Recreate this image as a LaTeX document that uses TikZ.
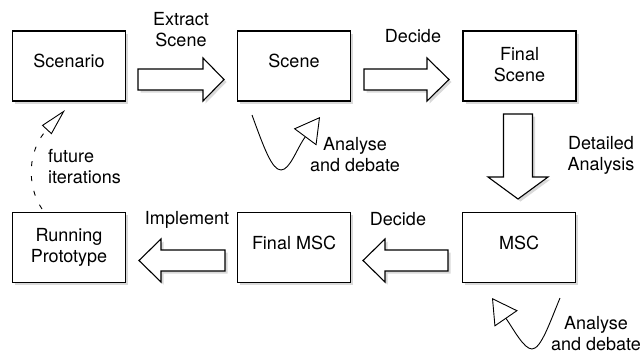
\documentclass[tikz,border=0pt]{standalone}
\usepackage{fontspec}
\setmainfont{TeX Gyre Heros}
\usetikzlibrary{shadows,arrows.meta,calc}
\begin{document}
\begin{tikzpicture}[x=1pt,y=-1pt,
  font=\fontsize{18}{21}\selectfont,
  shad/.style={drop shadow={shadow xshift=2.5pt,shadow yshift=-2.5pt,opacity=0.3}},
  box/.style={draw,line width=1.1pt,fill=white,minimum width=113pt,minimum height=70pt,inner sep=0pt,shad},
  lab/.style={inner sep=0pt,align=center},
  barrow/.style={draw,line width=1.1pt,fill=white,line join=miter,shad},
  loop/.style={line width=0.9pt,-{Triangle[open,length=25pt,width=28pt]}},
  fut/.style={line width=0.9pt,dash pattern=on 5pt off 10pt,-{Triangle[open,length=27pt,width=13pt]}}
]
\useasboundingbox (0,0) rectangle (640,354);

% boxes
\node[box,label={[lab,yshift=5pt]center:Scenario}] (scenario) at (69,66) {};
\node[box,label={[lab,yshift=5pt]center:Scene}] (scene) at (294,66) {};
\node[box,label={[lab,yshift=1.5pt]center:Final\\Scene}] (fscene) at (519.5,66) {};
\node[box,label={[lab,yshift=0.5pt]center:Running\\Prototype}] (proto) at (69,247.5) {};
\node[box,label={[lab,yshift=4.5pt]center:Final MSC}] (fmsc) at (294,247.5) {};
\node[box,label={[lab,yshift=4.5pt]center:MSC}] (msc) at (519,247.5) {};

% block arrows
\draw[barrow] (138,69) -- (203,69) -- (203,58) -- (224,79.5) -- (203,101) -- (203,90) -- (138,90) -- cycle;
\draw[barrow] (364,69) -- (427,69) -- (427,58) -- (449,79.5) -- (427,101) -- (427,90) -- (364,90) -- cycle;
\draw[barrow] (503.5,114) -- (532.5,114) -- (532.5,177) -- (548,177) -- (518,199) -- (488,177) -- (503.5,177) -- cycle;
\draw[barrow] (448,250) -- (385,250) -- (385,239) -- (363,260.5) -- (385,282) -- (385,271) -- (448,271) -- cycle;
\draw[barrow] (225,250) -- (161,250) -- (161,239) -- (139,260.5) -- (161,282) -- (161,271) -- (225,271) -- cycle;

% labels
\node[lab] (extract) at (181,30) {Extract\\Scene};
\node[lab] (decideA) at (413,36) {Decide};
\node[lab] (detailed) at (601,155.5) {Detailed\\Analysis};
\node[lab] (adA) at (355,155) {Analyse\\and debate};
\node[lab,align=left,anchor=west] (future) at (48,167) {future\\iterations};
\node[lab] (impl) at (187,219.5) {Implement};
\node[lab] (decideB) at (398,219) {Decide};
\node[lab] (adB) at (596,333.5) {Analyse\\and debate};

% loops
\coordinate (l1s) at (252,115);
\coordinate (l1b) at (281,170);
\coordinate (l1e) at (320,117);
\draw[loop] (l1s) .. controls (264,148) and (272,170) .. (l1b) .. controls (290,170) and (297,148) .. (l1e);
\coordinate (l2s) at (560,298);
\coordinate (l2b) at (532,349);
\coordinate (l2e) at (492,298);
\draw[loop] (l2s) .. controls (550,322) and (541,349) .. (l2b) .. controls (524,349) and (514,330) .. (l2e);
\coordinate (fs) at (42,209);
\coordinate (fe) at (65,110);
\draw[fut] (fs) .. controls (26,185) and (28,150) .. (fe);
\end{tikzpicture}
\end{document}
